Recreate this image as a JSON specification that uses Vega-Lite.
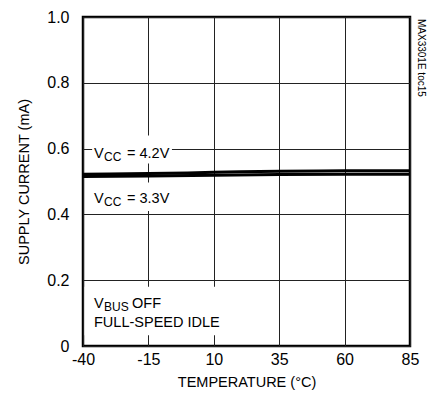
{
  "$schema": "https://vega.github.io/schema/vega-lite/v6.json",
  "width": 327,
  "height": 329,
  "autosize": "none",
  "padding": {"left": 83, "top": 17, "right": 18, "bottom": 64},
  "background": "white",
  "config": {
    "view": {"stroke": "black", "strokeWidth": 2.5},
    "font": "Liberation Sans"
  },
  "datasets": {
    "curves": [
      {"t": -40, "c": 0.522, "s": "4.2V"},
      {"t": -30, "c": 0.523, "s": "4.2V"},
      {"t": -15, "c": 0.524, "s": "4.2V"},
      {"t": 0, "c": 0.526, "s": "4.2V"},
      {"t": 10, "c": 0.528, "s": "4.2V"},
      {"t": 20, "c": 0.530, "s": "4.2V"},
      {"t": 35, "c": 0.531, "s": "4.2V"},
      {"t": 50, "c": 0.532, "s": "4.2V"},
      {"t": 60, "c": 0.533, "s": "4.2V"},
      {"t": 75, "c": 0.533, "s": "4.2V"},
      {"t": 85, "c": 0.533, "s": "4.2V"},
      {"t": -40, "c": 0.515, "s": "3.3V"},
      {"t": -15, "c": 0.517, "s": "3.3V"},
      {"t": 10, "c": 0.519, "s": "3.3V"},
      {"t": 35, "c": 0.521, "s": "3.3V"},
      {"t": 60, "c": 0.522, "s": "3.3V"},
      {"t": 85, "c": 0.522, "s": "3.3V"}
    ],
    "boxes": [
      {"t": -36.5, "t2": -6, "c": 0.555, "c2": 0.64},
      {"t": -38, "t2": -6, "c": 0.41, "c2": 0.497},
      {"t": -39.4, "t2": 14, "c": 0.033, "c2": 0.18}
    ],
    "labels": [
      {"t": -40, "c": 0.571, "v": "V", "sub": "CC", "rest": "= 4.2V", "after": ""},
      {"t": -40, "c": 0.4347, "v": "V", "sub": "CC", "rest": "= 3.3V", "after": ""},
      {"t": -40, "c": 0.1155, "v": "V", "sub": "BUS", "rest": "", "after": "OFF"},
      {"t": -40, "c": 0.0578, "v": "FULL-SPEED IDLE", "sub": "", "rest": "", "after": ""}
    ],
    "tag": [
      {"t": 85, "c": 1.0, "v": "MAX3301E toc15"}
    ]
  },
  "encoding": {
    "x": {
      "field": "t",
      "type": "quantitative",
      "scale": {"domain": [-40, 85], "nice": false, "zero": false},
      "axis": {
        "values": [-40, -15, 10, 35, 60, 85],
        "labelExpr": "datum.value < 0 ? '-' + abs(datum.value) : '' + datum.value",
        "title": "TEMPERATURE (°C)",
        "grid": true,
        "gridColor": "#222222",
        "gridWidth": 1,
        "domain": false,
        "ticks": false,
        "labelPadding": 5,
        "labelFontSize": 16,
        "labelColor": "black",
        "labelFlush": false,
        "titleFontSize": 14.5,
        "titleFontWeight": "normal",
        "titleColor": "black",
        "titlePadding": 8
      }
    },
    "y": {
      "field": "c",
      "type": "quantitative",
      "scale": {"domain": [0, 1], "nice": false, "zero": false},
      "axis": {
        "values": [0, 0.2, 0.4, 0.6, 0.8, 1.0],
        "labelExpr": "datum.value == 0 ? '0' : format(datum.value, '.1f')",
        "title": "SUPPLY CURRENT (mA)",
        "grid": true,
        "gridColor": "#222222",
        "gridWidth": 1,
        "domain": false,
        "ticks": false,
        "labelPadding": 14,
        "labelFontSize": 16,
        "labelColor": "black",
        "labelFlush": false,
        "titleFontSize": 14.5,
        "titleFontWeight": "normal",
        "titleColor": "black",
        "titlePadding": 15
      }
    }
  },
  "layer": [
    {
      "data": {"name": "boxes"},
      "mark": {"type": "rect", "fill": "white", "stroke": null},
      "encoding": {"x2": {"field": "t2"}, "y2": {"field": "c2"}}
    },
    {
      "data": {"name": "curves"},
      "mark": {"type": "line", "color": "black", "strokeWidth": 3},
      "encoding": {"detail": {"field": "s"}}
    },
    {
      "data": {"name": "labels"},
      "mark": {"type": "text", "align": "left", "baseline": "alphabetic", "dx": 11, "fontSize": 14.5, "color": "black"},
      "encoding": {"text": {"field": "v"}}
    },
    {
      "data": {"name": "labels"},
      "mark": {"type": "text", "align": "left", "baseline": "alphabetic", "dx": 21, "dy": 3, "fontSize": 12, "color": "black"},
      "encoding": {"text": {"field": "sub"}}
    },
    {
      "data": {"name": "labels"},
      "mark": {"type": "text", "align": "left", "baseline": "alphabetic", "dx": 44, "fontSize": 14.5, "color": "black"},
      "encoding": {"text": {"field": "rest"}}
    },
    {
      "data": {"name": "labels"},
      "mark": {"type": "text", "align": "left", "baseline": "alphabetic", "dx": 49, "fontSize": 14.5, "color": "black"},
      "encoding": {"text": {"field": "after"}}
    },
    {
      "data": {"name": "tag"},
      "mark": {"type": "text", "align": "left", "baseline": "middle", "angle": 90, "dx": 2, "dy": -11, "fontSize": 10, "color": "black"},
      "encoding": {"text": {"field": "v"}}
    }
  ]
}
